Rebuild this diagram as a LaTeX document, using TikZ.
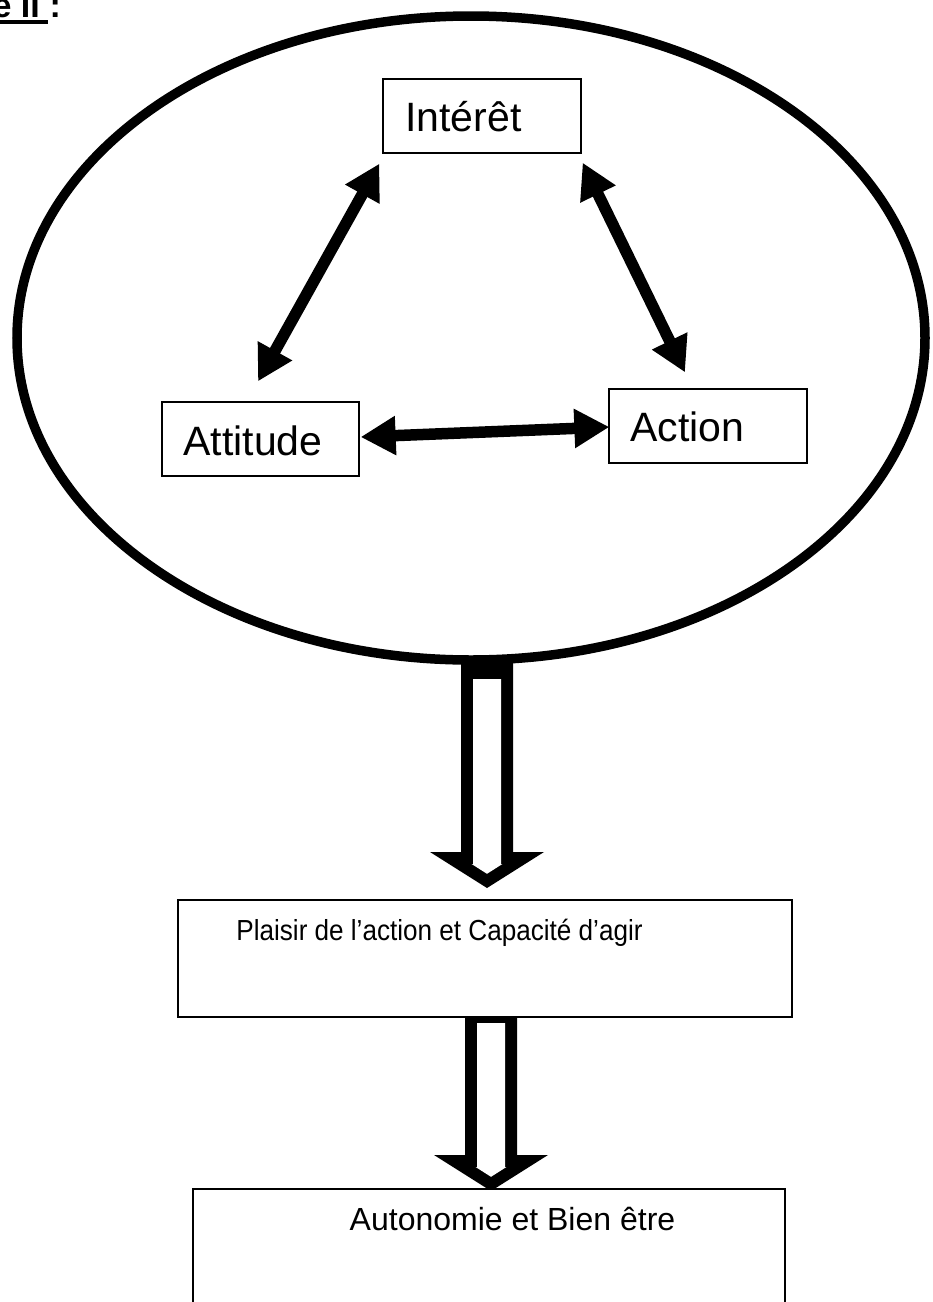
\documentclass[tikz,border=0pt]{standalone}
\usepackage{fontspec}
\setmainfont{Liberation Sans}
\usetikzlibrary{arrows.meta,shapes.geometric,calc}
% hollow block arrow pointing down: #1 centre x, #2 outer top, #3 inner top, #4 head base y
\newcommand\hollowdown[4]{%
  \fill[black] (#1-26,#2) -- (#1+26,#2) -- (#1+26,#4) -- (#1+57,#4) -- (#1,#4+36)
     -- (#1-57,#4) -- (#1-26,#4) -- cycle;
  \fill[white] (#1-14,#3) -- (#1+14,#3) -- (#1+14,#4+12) -- (#1+15.4,#4+12)
     -- (#1,#4+21.8) -- (#1-15.4,#4+12) -- (#1-14,#4+12) -- cycle;}
\begin{document}
\begin{tikzpicture}[x=1pt,y=-1pt,
  box/.style={draw, line width=1.3pt, fill=white, inner sep=0pt},
  bigtxt/.style={anchor=base, inner sep=0pt, font=\fontsize{41}{49}\selectfont},
  dbl/.style={line width=11.5pt, <->, >={Triangle[length=35pt,width=37pt]}},
  oval/.style={ellipse, draw, line width=9.5pt, inner sep=0pt}]
\useasboundingbox (0,0) rectangle (933,1302);

% title (partly cut at the page edge, as in the original)
\node[anchor=base east, inner sep=0pt, font=\fontsize{34}{40}\selectfont\bfseries] (ttl) at (40,17) {Figure II};
\node[anchor=base west, inner sep=0pt, font=\fontsize{34}{40}\selectfont\bfseries] (ttlc) at (40,17) {\ :};
\fill (0,20) rectangle (48,24);

% hollow arrows
\hollowdown{487}{662}{679}{852}
\hollowdown{491}{1011}{1023}{1155}

% ellipse
\node[oval, minimum width=908pt, minimum height=644pt] (ell) at (471,338) {};

% boxes
\node[box, minimum width=198pt, minimum height=74pt] (int) at (482,116) {};
\node[box, minimum width=197pt, minimum height=74pt] (att) at (260.5,439) {};
\node[box, minimum width=198pt, minimum height=74pt] (act) at (708,426) {};
\node[box, minimum width=614pt, minimum height=117pt] (pla) at (485,958.5) {};
\node[box, minimum width=592pt, minimum height=131pt] (aut) at (489,1254.5) {};

% texts
\node[bigtxt] (intt) at (463.5,131) {Intérêt};
\node[bigtxt] (attt) at (253,455) {Attitude};
\node[bigtxt] (actt) at (687.5,441) {Action};
\node[anchor=base, inner sep=0pt, font=\fontsize{29}{35}\selectfont] (plat) at (439.5,940)
  {\scalebox{0.9}[1]{Plaisir de l’action et Capacité d’agir}};
\node[anchor=base, inner sep=0pt, font=\fontsize{32}{38}\selectfont] (autt) at (512.5,1230)
  {Autonomie et Bien être};

% double arrows
\coordinate (a1) at ($(int.south west)+(-3,10)$);
\coordinate (a2) at ($(att.north)+(-2.5,-20)$);
\coordinate (b1) at ($(int.south east)+(1,9)$);
\coordinate (b2) at ($(act.north)+(-23,-16)$);
\coordinate (c1) at ($(att.east)+(1,-2)$);
\coordinate (c2) at ($(act.west)+(1,1)$);
\draw[dbl] (a1) -- (a2);
\draw[dbl] (b1) -- (b2);
\draw[dbl] (c1) -- (c2);
\end{tikzpicture}
\end{document}
